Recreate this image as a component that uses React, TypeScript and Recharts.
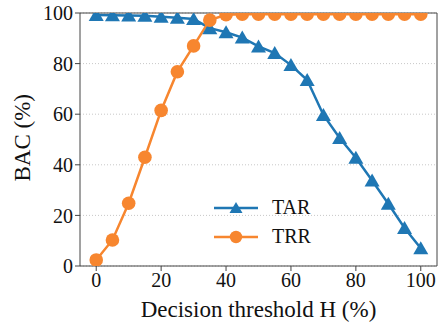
import { LineChart, Line, XAxis, YAxis, CartesianGrid, ReferenceLine } from 'recharts';

const thresholds = [0, 5, 10, 15, 20, 25, 30, 35, 40, 45, 50, 55, 60, 65, 70, 75, 80, 85, 90, 95, 100];
const tar = [99.2, 99.1, 99, 98.9, 98.5, 98.1, 97.6, 94, 92.4, 90.3, 86.8, 84.2, 79.4, 73.5, 59.7, 50.6, 42.8, 33.8, 24.6, 15, 7];
const trr = [2.4, 10.3, 24.8, 43, 61.5, 76.8, 87, 97.2, 99.3, 99.5, 99.5, 99.5, 99.5, 99.5, 99.5, 99.5, 99.5, 99.5, 99.5, 99.5, 99.5];
const xTicks = [0, 20, 40, 60, 80, 100];
const yTicks = [0, 20, 40, 60, 80, 100];

const BLUE = '#1f77b4';
const ORANGE = '#f7862f';
const AXIS = '#444';
const FONT = 'Liberation Serif, Times New Roman, DejaVu Serif, serif';

const data = thresholds.map((h, i) => ({ h, tar: tar[i], trr: trr[i] }));

const Triangle = (props: any) => {
  const { cx, cy } = props;
  if (cx == null || cy == null) return null;
  return <path d={`M${cx},${cy - 7} L${cx + 7.5},${cy + 6} L${cx - 7.5},${cy + 6} Z`} fill={BLUE} stroke="none" />;
};

const Circle = (props: any) => {
  const { cx, cy } = props;
  if (cx == null || cy == null) return null;
  return <circle cx={cx} cy={cy} r={6.8} fill={ORANGE} stroke="none" />;
};

const legendItems = [
  { name: 'TAR', color: BLUE, tri: true },
  { name: 'TRR', color: ORANGE, tri: false },
];

export default function App() {
  return (
    <div style={{ position: 'absolute', left: 0, top: 0, width: 440, height: 324, background: '#fff' }}>
      <LineChart width={440} height={324} data={data} margin={{ top: 13, right: 3, left: 0, bottom: 0 }}>
        <CartesianGrid vertical={false} stroke="#c8c8c8" strokeDasharray="1 2" />
        <XAxis
          dataKey="h"
          type="number"
          domain={[-5, 105]}
          ticks={xTicks}
          height={58}
          stroke={AXIS}
          tick={{ fill: '#111', fontSize: 20, fontFamily: FONT }}
          tickSize={5}
          label={{ value: 'Decision threshold H (%)', position: 'insideBottom', offset: 7, fill: '#111', fontSize: 23, fontFamily: FONT }}
        />
        <YAxis
          type="number"
          domain={[0, 100]}
          ticks={yTicks}
          allowDataOverflow
          width={80}
          stroke={AXIS}
          tick={{ fill: '#111', fontSize: 20, fontFamily: FONT }}
          tickSize={5}
          label={{ value: 'BAC (%)', angle: -90, position: 'insideLeft', offset: 22, dy: 42, fill: '#111', fontSize: 23, fontFamily: FONT }}
        />
        <ReferenceLine y={100} stroke={AXIS} />
        <ReferenceLine x={105} stroke={AXIS} />
        <Line dataKey="tar" name="TAR" stroke={BLUE} strokeWidth={2.5} dot={<Triangle />} activeDot={false} isAnimationActive={false} />
        <Line dataKey="trr" name="TRR" stroke={ORANGE} strokeWidth={2.5} dot={<Circle />} activeDot={false} isAnimationActive={false} />
      </LineChart>
      <div style={{ position: 'absolute', left: 214, top: 193, fontFamily: FONT, fontSize: 20, color: '#111' }}>
        {legendItems.map((s) => (
          <div key={s.name} style={{ display: 'flex', alignItems: 'center', height: 29 }}>
            <svg width={58} height={20}>
              <line x1={0} y1={10} x2={44} y2={10} stroke={s.color} strokeWidth={2.5} />
              {s.tri ? (
                <path d="M22,4 L28.5,15 L15.5,15 Z" fill={s.color} />
              ) : (
                <circle cx={22} cy={10} r={6.2} fill={s.color} />
              )}
            </svg>
            <span>{s.name}</span>
          </div>
        ))}
      </div>
    </div>
  );
}
